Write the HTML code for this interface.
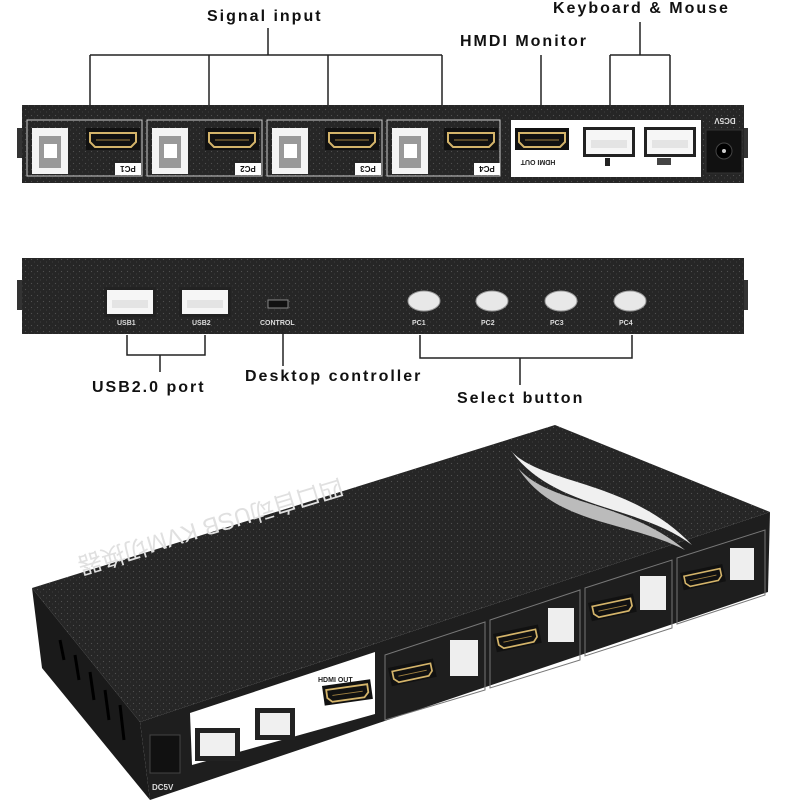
<!DOCTYPE html>
<html><head><meta charset="utf-8"><style>
html,body{margin:0;padding:0;background:#fff;width:800px;height:800px;overflow:hidden}
</style></head><body>
<svg width="800" height="800" viewBox="0 0 800 800" xmlns="http://www.w3.org/2000/svg" font-family="Liberation Sans, sans-serif">
<defs>
<pattern id="tex" width="6" height="6" patternUnits="userSpaceOnUse">
<rect width="6" height="6" fill="#262626"/><circle cx="1.5" cy="1.5" r="0.6" fill="#505050"/><circle cx="4.5" cy="4" r="0.5" fill="#444"/>
</pattern>
<g id="hdmi"><rect x="0" y="0" width="54" height="22" fill="#111"/><path d="M4 5 H50 V14 L45 19 H9 L4 14 Z" fill="none" stroke="#d4b46a" stroke-width="2"/><line x1="10" y1="12" x2="44" y2="12" stroke="#a08040" stroke-width="1"/></g>
<g id="usbb"><rect x="0" y="0" width="36" height="46" fill="#f4f4f4"/><path d="M7 8 H29 V40 H7 V16 Z" fill="#999"/><rect x="12" y="16" width="13" height="14" fill="#fff"/></g>
<g id="usba"><rect x="0" y="0" width="52" height="30" fill="#222"/><rect x="3" y="3" width="46" height="24" fill="#f6f6f6"/><rect x="8" y="13" width="36" height="8" fill="#e4e4e4"/></g>
</defs>

<g font-weight="bold" font-size="16" letter-spacing="2" fill="#111">
<text x="207" y="21">Signal input</text>
<text x="460" y="46">HMDI Monitor</text>
<text x="553" y="13">Keyboard &amp; Mouse</text>
</g>
<g stroke="#222" stroke-width="1.5" fill="none">
<path d="M268 28 V55 M90 55 H442 M90 55 V118 M209 55 V118 M328 55 V118 M442 55 V118"/>
<path d="M541 55 V118"/>
<path d="M640 22 V55 M610 55 H670 M610 55 V120 M670 55 V120"/>
</g>

<rect x="17" y="128" width="5" height="30" fill="#333"/>
<rect x="743" y="128" width="5" height="30" fill="#333"/>
<rect x="22" y="105" width="722" height="78" fill="url(#tex)"/>
<g fill="none" stroke="#ccc" stroke-width="1">
<rect x="27" y="120" width="115" height="56"/><rect x="147" y="120" width="115" height="56"/>
<rect x="267" y="120" width="115" height="56"/><rect x="387" y="120" width="113" height="56"/>
</g>
<g>
<use href="#usbb" x="32" y="128"/><use href="#hdmi" x="86" y="128"/>
<use href="#usbb" x="152" y="128"/><use href="#hdmi" x="205" y="128"/>
<use href="#usbb" x="272" y="128"/><use href="#hdmi" x="325" y="128"/>
<use href="#usbb" x="392" y="128"/><use href="#hdmi" x="444" y="128"/>
</g>
<g fill="#fff"><rect x="115" y="163" width="26" height="12"/><rect x="235" y="163" width="26" height="12"/><rect x="355" y="163" width="26" height="12"/><rect x="474" y="163" width="26" height="12"/></g>
<g fill="#111" font-size="8" font-weight="bold" text-anchor="middle">
<text x="128" y="172" transform="rotate(180 128 169)">PC1</text>
<text x="248" y="172" transform="rotate(180 248 169)">PC2</text>
<text x="368" y="172" transform="rotate(180 368 169)">PC3</text>
<text x="487" y="172" transform="rotate(180 487 169)">PC4</text>
</g>
<rect x="511" y="120" width="190" height="57" fill="#fff"/>
<use href="#hdmi" x="515" y="128"/>
<use href="#usba" x="583" y="127"/><use href="#usba" x="644" y="127"/>
<text x="538" y="166" font-size="7" font-weight="bold" fill="#222" text-anchor="middle" transform="rotate(180 538 163)">HDMI OUT</text>
<rect x="605" y="158" width="5" height="8" fill="#222"/><rect x="657" y="158" width="14" height="7" fill="#444"/>
<rect x="706" y="130" width="36" height="43" fill="#111" stroke="#333"/>
<circle cx="724" cy="151" r="8" fill="#000" stroke="#444"/><circle cx="724" cy="151" r="2" fill="#ccc"/>
<text x="725" y="124" font-size="8" font-weight="bold" fill="#ddd" text-anchor="middle" transform="rotate(180 725 121)">DC5V</text>

<rect x="17" y="280" width="5" height="30" fill="#333"/>
<rect x="743" y="280" width="5" height="30" fill="#333"/>
<rect x="22" y="258" width="722" height="76" fill="url(#tex)"/>
<use href="#usba" x="104" y="287"/><use href="#usba" x="179" y="287"/>
<rect x="268" y="300" width="20" height="8" fill="#111" stroke="#888"/>
<g fill="#e8e8e8" stroke="#999"><ellipse cx="424" cy="301" rx="16" ry="10"/><ellipse cx="492" cy="301" rx="16" ry="10"/><ellipse cx="561" cy="301" rx="16" ry="10"/><ellipse cx="630" cy="301" rx="16" ry="10"/></g>
<g fill="#ddd" font-size="7" font-weight="bold">
<text x="117" y="325">USB1</text><text x="192" y="325">USB2</text><text x="260" y="325">CONTROL</text>
<text x="412" y="325">PC1</text><text x="481" y="325">PC2</text><text x="550" y="325">PC3</text><text x="619" y="325">PC4</text>
</g>
<g stroke="#222" stroke-width="1.5" fill="none">
<path d="M127 335 V355 H205 V335 M160 355 V372"/>
<path d="M283 325 V366"/>
<path d="M420 335 V358 H632 V335 M520 358 V385"/>
</g>
<g font-weight="bold" font-size="16" letter-spacing="2" fill="#111">
<text x="92" y="392">USB2.0 port</text>
<text x="245" y="381">Desktop controller</text>
<text x="457" y="403">Select button</text>
</g>

<polygon points="32,588 555,425 770,512 140,722" fill="url(#tex)"/>
<polygon points="32,588 140,722 150,800 42,668" fill="#1a1a1a"/>
<polygon points="140,722 770,512 768,592 150,800" fill="#1e1e1e"/>
<g stroke="#000" stroke-width="3">
<line x1="60" y1="640" x2="64" y2="660"/><line x1="75" y1="655" x2="79" y2="680"/><line x1="90" y1="672" x2="94" y2="700"/><line x1="105" y1="690" x2="109" y2="720"/><line x1="120" y1="705" x2="124" y2="740"/>
</g>
<path d="M512 452 C545 485 630 480 692 545 C640 505 555 510 512 452 Z" fill="#f0f0f0"/>
<path d="M518 468 C550 505 625 500 685 550 C625 520 555 525 518 468 Z" fill="#bbb"/>
<text x="0" y="0" font-size="24" fill="#e0e0e0" font-family="Liberation Sans, Noto Sans CJK SC, sans-serif" transform="translate(340,478) rotate(163)">四口自动USB KVM切换器</text>
<polygon points="190,713 375,652 375,714 192,765" fill="#fff"/>
<g fill="#222"><rect x="195" y="728" width="45" height="33"/><rect x="255" y="708" width="40" height="32"/></g>
<g fill="#f0f0f0"><rect x="200" y="733" width="35" height="23"/><rect x="260" y="713" width="30" height="22"/></g>
<use href="#hdmi" transform="translate(322,686) rotate(-8) scale(0.9)"/>
<text x="318" y="682" font-size="7" font-weight="bold" fill="#222">HDMI OUT</text>
<rect x="150" y="735" width="30" height="38" fill="#111" stroke="#444"/>
<text x="152" y="790" font-size="8" font-weight="bold" fill="#ddd">DC5V</text>
<g fill="none" stroke="#777">
<polygon points="385,655 485,622 485,690 385,720"/>
<polygon points="490,620 580,590 580,660 490,688"/>
<polygon points="585,588 672,560 672,628 585,656"/>
<polygon points="677,558 765,530 765,595 677,624"/>
</g>
<g>
<use href="#hdmi" transform="translate(388,668) rotate(-12) scale(0.85)"/>
<use href="#hdmi" transform="translate(493,634) rotate(-12) scale(0.85)"/>
<use href="#hdmi" transform="translate(588,603) rotate(-12) scale(0.85)"/>
<use href="#hdmi" transform="translate(680,573) rotate(-12) scale(0.8)"/>
</g>
<g fill="#eee"><rect x="450" y="640" width="28" height="36"/><rect x="548" y="608" width="26" height="34"/><rect x="640" y="576" width="26" height="34"/><rect x="730" y="548" width="24" height="32"/></g>
</svg>
</body></html>
